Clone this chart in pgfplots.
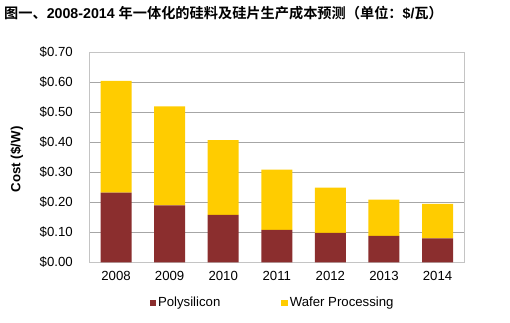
\documentclass[border=0pt]{standalone}
\usepackage{fontspec}
\setmainfont{Liberation Sans}
\newfontfamily\cjk{Noto Sans CJK SC}[BoldFont={* Bold}]
\usepackage{pgfplots}
\pgfplotsset{compat=1.18}
\definecolor{poly}{HTML}{8B2E2E}
\definecolor{wafer}{HTML}{FFCC00}
\definecolor{gridc}{HTML}{A6A6A6}
\definecolor{framec}{HTML}{C4C4C4}
\begin{document}
\begin{tikzpicture}
\useasboundingbox (0pt,0pt) rectangle (510pt,-322pt);
\node[anchor=west,inner sep=0pt] at (4pt,-13.5pt) {\fontsize{14.2}{16}\selectfont\bfseries{\cjk 图一、}2008-2014 {\cjk 年一体化的硅料及硅片生产成本预测（单位：}\$/{\cjk 瓦）}};
\begin{axis}[
  at={(89.3pt,-262.3pt)}, anchor=south west,
  scale only axis, width=375pt, height=210pt,
  ymin=0, ymax=0.70, xmin=-0.5, xmax=6.5,
  ybar stacked, bar width=31pt,
  xtick=data, xticklabels={2008,2009,2010,2011,2012,2013,2014},
  ytick={0,0.1,0.2,0.3,0.4,0.5,0.6,0.7},
  yticklabels={\$0.00,\$0.10,\$0.20,\$0.30,\$0.40,\$0.50,\$0.60,\$0.70},
  ymajorgrids, grid style={gridc, line width=0.7pt},
  axis line style={framec, line width=0.8pt},
  major tick length=0pt,
  tick label style={font=\fontsize{13.2}{15}\selectfont},
  yticklabel style={xshift=-13pt},
  xticklabel style={yshift=-5pt},
  ylabel={\bfseries Cost (\$/W)},
  ylabel style={font=\fontsize{13.3}{15}\selectfont, at={(axis description cs:-0.193,0.49)}, anchor=center},
  legend style={at={(0.16,-0.192)}, anchor=west, draw=none, fill=none,
    legend columns=2, font=\fontsize{13.2}{15}\selectfont,
    /tikz/every even column/.append style={column sep=59pt},
    inner sep=0pt},
  legend image code/.code={\fill[#1] (0pt,-3.5pt) rectangle (6.5pt,3pt);},
  legend cell align=left,
]
\addplot[fill=poly, draw=none] coordinates {(0,0.232) (1,0.190) (2,0.158) (3,0.108) (4,0.098) (5,0.088) (6,0.080)};
\addplot[fill=wafer, draw=none] coordinates {(0,0.373) (1,0.330) (2,0.249) (3,0.201) (4,0.151) (5,0.121) (6,0.115)};
\legend{Polysilicon, Wafer Processing}
\end{axis}
\end{tikzpicture}
\end{document}
